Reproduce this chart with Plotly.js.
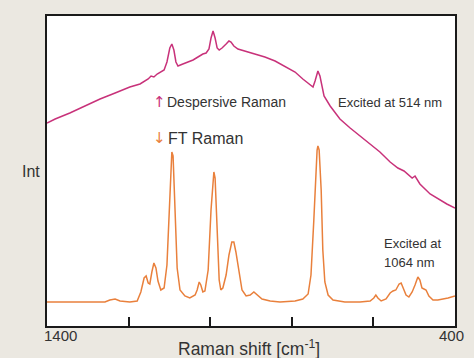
<!DOCTYPE html>
<html>
<head>
<meta charset="utf-8">
<script src="https://cdn.plot.ly/plotly-3.0.1.min.js"></script>
<style>html,body{margin:0;padding:0;background:#ebe8e1;}</style>
</head>
<body>
<div id="chart" style="width:474px;height:358px;"></div>
<script>
// Dispersive Raman (excited at 514 nm) – wavenumber [cm-1] and intensity (arb.)
const dispShift = [1400,1380,1344,1307,1270,1233,1197,1172,1160,1152,1145,1138,1130,1123,1113,1106,1099,1094,1089,1084,1079,1067,1054,1042,1030,1022,1018,1010,1003,998,993,988,983,978,971,961,954,949,942,932,915,890,866,841,817,792,773,755,748,743,738,736,731,726,721,706,682,657,633,608,584,559,540,525,515,505,498,493,486,461,437,420,400];
const dispInt = [203,207,213,220,227,233,239,242,245,247,250,249,252,254,256,264,278,282,276,264,260,262,264,266,269,271,272,273,277,288,295,288,278,276,278,282,285,284,280,277,275,272,269,265,260,254,247,241,239,245,253,255,250,238,230,220,207,198,190,182,174,164,158,155,151,148,150,146,142,132,126,122,118];

// FT Raman (excited at 1064 nm)
const ftShift = [1400,1319,1258,1246,1233,1221,1197,1179,1170,1162,1157,1152,1148,1143,1138,1133,1128,1121,1113,1106,1101,1096,1094,1091,1086,1081,1074,1062,1050,1037,1032,1027,1023,1018,1013,1005,998,993,991,988,983,978,974,969,961,954,947,942,937,929,922,912,902,893,885,873,853,829,792,773,760,753,746,741,738,736,733,728,724,719,711,699,670,633,608,599,594,589,581,569,559,552,545,537,532,527,520,513,505,498,491,486,481,476,471,464,454,442,429,417,400];
const ftInt = [24,24,24,26,27,25,24,25,34,48,50,43,42,54,63,58,45,36,38,61,106,161,174,170,116,58,36,30,28,31,36,44,41,34,35,56,116,146,154,148,96,46,36,38,51,71,84,84,74,51,36,30,31,34,31,27,25,24,25,27,32,51,106,156,176,180,176,136,76,44,31,26,24,24,25,28,31,28,25,27,33,35,36,42,43,38,31,29,34,41,49,46,38,37,36,30,26,26,27,28,30];

const xTicks = [1200,1000,800,600];
const xEndLabels = ['1400','400'];

const txt = '#333333';
const magenta = '#c8327a';
const orange = '#e9803c';
const font = 'Liberation Sans, Arial, sans-serif';

const traces = [
  {x: dispShift, y: dispInt, type:'scatter', mode:'lines', line:{color:magenta, width:1.5}, hoverinfo:'skip'},
  {x: ftShift, y: ftInt, type:'scatter', mode:'lines', line:{color:orange, width:1.5}, hoverinfo:'skip'}
];

const layout = {
  width:474, height:358,
  margin:{l:47, r:19, t:16, b:32},
  paper_bgcolor:'#ebe8e1',
  plot_bgcolor:'#ffffff',
  showlegend:false,
  font:{family:font, color:txt},
  xaxis:{range:[1400,400], showgrid:false, zeroline:false, showline:true, mirror:true,
         linecolor:'#1a1a1a', linewidth:2, ticks:'inside', ticklen:9, tickwidth:2, tickcolor:'#1a1a1a',
         tickvals:xTicks, showticklabels:false},
  yaxis:{range:[0,310], showgrid:false, zeroline:false, showline:true, mirror:true,
         linecolor:'#1a1a1a', linewidth:2, ticks:'', showticklabels:false},
  annotations:[
    {xref:'x', yref:'y', x:1125, y:224, xanchor:'center', yanchor:'middle', showarrow:false,
     text:'↑', font:{size:15, color:magenta, family:'DejaVu Sans'}},
    {xref:'x', yref:'y', x:1110, y:224, xanchor:'left', yanchor:'middle', showarrow:false,
     text:'Despersive Raman', font:{size:14, color:txt}},
    {xref:'x', yref:'y', x:1125, y:188, xanchor:'center', yanchor:'middle', showarrow:false,
     text:'↓', font:{size:15, color:orange, family:'DejaVu Sans'}},
    {xref:'x', yref:'y', x:1108, y:188, xanchor:'left', yanchor:'middle', showarrow:false,
     text:'FT Raman', font:{size:16, color:txt}},
    {xref:'x', yref:'y', x:691, y:224, xanchor:'left', yanchor:'middle', showarrow:false,
     text:'Excited at 514 nm', font:{size:13, color:txt}},
    {xref:'x', yref:'y', x:578, y:83, xanchor:'left', yanchor:'middle', showarrow:false,
     text:'Excited at', font:{size:13, color:txt}},
    {xref:'x', yref:'y', x:578, y:64, xanchor:'left', yanchor:'middle', showarrow:false,
     text:'1064 nm', font:{size:13, color:txt}},
    {xref:'paper', yref:'paper', x:(42-47)/408, y:(326-335)/310, xanchor:'left', yanchor:'middle', showarrow:false,
     text:xEndLabels[0], font:{size:15, color:txt}},
    {xref:'paper', yref:'paper', x:(437-47)/408, y:(326-335)/310, xanchor:'left', yanchor:'middle', showarrow:false,
     text:xEndLabels[1], font:{size:15, color:txt}},
    {xref:'paper', yref:'paper', x:(31-47)/408, y:(326-172)/310, xanchor:'center', yanchor:'middle', showarrow:false,
     text:'Int', font:{size:16, color:txt}},
    {xref:'paper', yref:'paper', x:(249-47)/408, y:(326-348)/310, xanchor:'center', yanchor:'middle', showarrow:false,
     text:'Raman shift [cm<sup>-1</sup>]', font:{size:17.5, color:txt}}
  ]
};

Plotly.newPlot('chart', traces, layout, {staticPlot:true, displayModeBar:false});
</script>
</body>
</html>
